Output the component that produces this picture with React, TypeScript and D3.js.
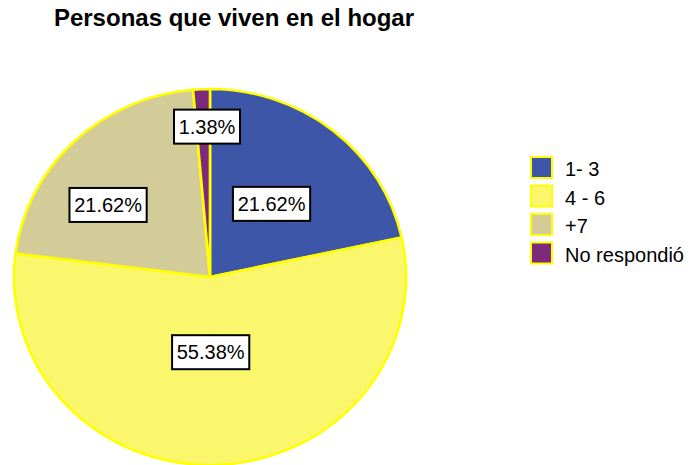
import React from 'react'
import * as d3 from 'd3'

const title = 'Personas que viven en el hogar'
const categories = ['1- 3', '4 - 6', '+7', 'No respondió']
const percents = [21.62, 55.38, 21.62, 1.38]
const colors = ['#3d56a8', '#fbf76c', '#d3cc98', '#7d2a7c']

// where each label sits: fraction through the slice, fraction of the radius
const labelSpot = [[0.5, 0.5], [0.51, 0.4], [0.375, 0.646], [0.78, 0.8]]

const W = 691
const H = 465
const cx = 210
const cy = 277
const rx = 196
const ry = 188

export default function App() {
  const pie = d3.pie<number>().sort(null).value(d => d)
  const arcs = pie(percents)
  const arc = d3.arc<d3.PieArcDatum<number>>().innerRadius(0).outerRadius(ry)

  return (
    <svg width={W} height={H} style={{ position: 'absolute', left: 0, top: 0 }}
      fontFamily="'Liberation Sans', Arial, sans-serif">
      <text x={234} y={26} textAnchor="middle" fontSize={24} fontWeight="bold">{title}</text>

      <g transform={`translate(${cx},${cy}) scale(${rx / ry},1)`}>
        {arcs.map((a, i) => (
          <path key={i} d={arc(a) || ''} fill={colors[i]} stroke="#ffff00" strokeWidth={2.5}
            strokeLinejoin="round" />
        ))}
      </g>

      {arcs.map((a, i) => {
        const [t, f] = labelSpot[i]
        const ang = a.startAngle + (a.endAngle - a.startAngle) * t
        const x = cx + Math.sin(ang) * rx * f
        const y = cy - Math.cos(ang) * ry * f
        const txt = percents[i].toFixed(2) + '%'
        const w = txt.length * 11.2 + 10
        return (
          <g key={i} transform={`translate(${x},${y})`}>
            <rect x={-w / 2} y={-17} width={w} height={34} fill="#fff" stroke="#000" strokeWidth={2} />
            <text x={0} y={7} textAnchor="middle" fontSize={20}>{txt}</text>
          </g>
        )
      })}

      <g transform="translate(531,157)">
        {categories.map((c, i) => (
          <g key={i} transform={`translate(0,${i * 28.5})`}>
            <rect x={0} y={0} width={21} height={21} fill={colors[i]} stroke="#ffff00" strokeWidth={2} />
            <text x={34} y={19} fontSize={20}>{c}</text>
          </g>
        ))}
      </g>
    </svg>
  )
}
